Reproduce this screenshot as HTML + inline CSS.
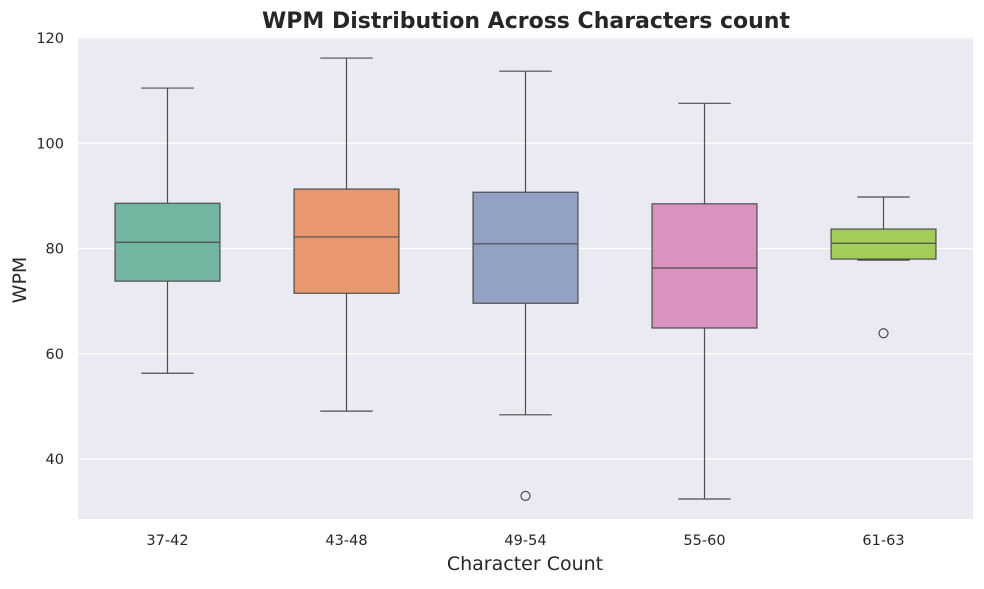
<!DOCTYPE html>
<html><head><meta charset="utf-8"><style>
body{margin:0;background:#fff;font-family:"Liberation Sans","DejaVu Sans",sans-serif;}
svg text{font-family:"DejaVu Sans","Liberation Sans",sans-serif;fill:#262626;}
</style></head><body>
<svg id="chart" width="984" height="584" xmlns="http://www.w3.org/2000/svg">
<text x="526" y="28" text-anchor="middle" font-size="22" font-weight="bold">WPM Distribution Across Characters count</text>
<rect x="78" y="37" width="895" height="482" fill="#eaeaf2"/>
<g id="grid"></g><g id="boxes"></g><g id="ticks"></g>
<text x="525" y="570" text-anchor="middle" font-size="19">Character Count</text>
<text x="26" y="280" text-anchor="middle" font-size="19" transform="rotate(-90 26 280)">WPM</text>
</svg>
<script>
const categories=["37-42","43-48","49-54","55-60","61-63"];
const whiskerLow=[56.3,49.1,48.4,32.4,77.8];
const q1=[73.8,71.5,69.6,64.9,78.0];
const medians=[81.2,82.2,80.9,76.3,81.0];
const q3=[88.6,91.3,90.7,88.5,83.7];
const whiskerHigh=[110.5,116.2,113.7,107.6,89.8];
const outliers=[[],[],[33.0],[],[63.9]];
const yTicks=[40,60,80,100,120];
const colors=["#72b6a1","#e9976f","#93a2c4","#da93be","#a3cc5a"];
const ns="http://www.w3.org/2000/svg";
const X0=78,X1=973,Y0=37,Y1=519;
const yMin=28.6,yMax=120.2;
const y=v=>Y1-(v-yMin)/(yMax-yMin)*(Y1-Y0);
const band=(X1-X0)/categories.length;
const x=i=>X0+band*(i+0.5);
function mk(tag,attrs,parent){const e=document.createElementNS(ns,tag);for(const k in attrs)e.setAttribute(k,attrs[k]);document.getElementById(parent).appendChild(e);return e;}
yTicks.forEach(t=>{
 const l=mk('line',{x1:X0,x2:X1,y1:y(t),y2:y(t),stroke:'#fff','stroke-width':1.2},'grid');
 
 
 const tx=mk('text',{x:X0-14,y:y(t)+5,'text-anchor':'end','font-size':14.5},'ticks');
 tx.textContent=t;
 
 
});
const bw=band*0.586;
categories.forEach((c,i)=>{
 const cx=x(i);
 const g=mk('g',{},'boxes');
 
 
 const add=(tag,a)=>{const e=document.createElementNS(ns,tag);for(const k in a)e.setAttribute(k,a[k]);g.appendChild(e);return e;};
 const st={stroke:'#4d4d4d','stroke-width':1.2,fill:'none'};
 add('line',Object.assign({x1:cx,x2:cx,y1:y(whiskerHigh[i]),y2:y(q3[i])},st));
 add('line',Object.assign({x1:cx,x2:cx,y1:y(q1[i]),y2:y(whiskerLow[i])},st));
 add('line',Object.assign({x1:cx-bw/4,x2:cx+bw/4,y1:y(whiskerHigh[i]),y2:y(whiskerHigh[i])},st));
 add('line',Object.assign({x1:cx-bw/4,x2:cx+bw/4,y1:y(whiskerLow[i]),y2:y(whiskerLow[i])},st));
 add('rect',{x:cx-bw/2,y:y(q3[i]),width:bw,height:y(q1[i])-y(q3[i]),fill:colors[i],stroke:'#4d4d4d','stroke-width':1.2});
 add('line',Object.assign({x1:cx-bw/2,x2:cx+bw/2,y1:y(medians[i]),y2:y(medians[i])},st));
 outliers[i].forEach(o=>add('circle',Object.assign({cx:cx,cy:y(o),r:4.5},st)));
 const tx=mk('text',{x:cx,y:Y1+26,'text-anchor':'middle','font-size':14.5},'ticks');
 tx.textContent=c;
 
 
});
</script>
</body></html>
